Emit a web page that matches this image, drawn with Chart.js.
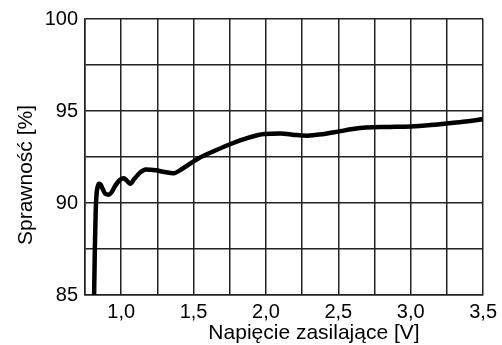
<!DOCTYPE html>
<html>
<head>
<meta charset="utf-8">
<script src="https://cdn.jsdelivr.net/npm/chart.js@4/dist/chart.umd.min.js"></script>
<style>
html,body{margin:0;padding:0;background:#fff;}
#wrap{width:502px;height:345px;}
</style>
</head>
<body>
<div id="wrap"><canvas id="c" width="502" height="345"></canvas></div>
<script>
const voltage = [0.812, 0.818, 0.824, 0.830, 0.838, 0.848, 0.858, 0.870, 0.890, 0.915, 0.935, 0.960, 0.990, 1.018, 1.040, 1.062, 1.090, 1.130, 1.170, 1.238, 1.300, 1.363, 1.420, 1.533, 1.650, 1.760, 1.880, 1.988, 2.101, 2.200, 2.283, 2.400, 2.499, 2.600, 2.691, 2.850, 3.000, 3.120, 3.248, 3.380, 3.500];
const efficiency = [84.5, 87.5, 89.6, 90.5, 90.9, 91.05, 91.0, 90.8, 90.5, 90.45, 90.6, 90.95, 91.25, 91.35, 91.2, 91.05, 91.3, 91.65, 91.82, 91.78, 91.68, 91.62, 91.85, 92.42, 92.85, 93.22, 93.55, 93.75, 93.78, 93.7, 93.66, 93.75, 93.88, 94.02, 94.1, 94.13, 94.16, 94.22, 94.32, 94.43, 94.56];
const xMin = 0.75, xMax = 3.5, xStep = 0.25;
const yMin = 85, yMax = 100, yStep = 2.5;
const xTitle = 'Napięcie zasilające [V]';
const yTitle = 'Sprawność [%]';

const points = voltage.map((v, i) => ({x: v, y: efficiency[i]}));
const fontFamily = '"Liberation Sans", Arial, sans-serif';

const axisTitles = {
  id: 'axisTitles',
  afterDraw(chart) {
    const ctx = chart.ctx;
    ctx.save();
    ctx.fillStyle = '#000';
    ctx.font = '21px ' + fontFamily;
    ctx.textAlign = 'center';
    ctx.textBaseline = 'middle';
    ctx.fillText(xTitle, 314, 333);
    ctx.translate(26, 175);
    ctx.rotate(-Math.PI / 2);
    ctx.fillText(yTitle, 0, 0);
    ctx.restore();
  }
};

new Chart(document.getElementById('c'), {
  type: 'scatter',
  data: {
    datasets: [{
      data: points,
      showLine: true,
      borderColor: '#000',
      borderWidth: 4.5,
      pointRadius: 0,
      cubicInterpolationMode: 'monotone',
      fill: false
    }]
  },
  options: {
    responsive: false,
    animation: false,
    devicePixelRatio: 1,
    layout: {padding: {top: 15, right: 14, left: 0, bottom: 0}},
    plugins: {legend: {display: false}, tooltip: {enabled: false}},
    scales: {
      x: {
        type: 'linear',
        min: xMin, max: xMax,
        afterFit: s => { s.height = 50; },
        ticks: {
          stepSize: xStep,
          autoSkip: false,
          maxRotation: 0,
          color: '#000',
          padding: 5,
          font: {family: fontFamily, size: 20},
          callback: v => (Math.abs(v * 2 - Math.round(v * 2)) < 1e-6 && v >= 1) ? v.toFixed(1).replace('.', ',') : ''
        },
        grid: {color: '#222', lineWidth: 1.5, drawTicks: false},
        border: {color: '#222', width: 1.5},
        title: {display: false}
      },
      y: {
        type: 'linear',
        min: yMin, max: yMax,
        afterFit: s => { s.width = 85; },
        ticks: {
          stepSize: yStep,
          autoSkip: false,
          color: '#000',
          padding: 7,
          font: {family: fontFamily, size: 20},
          callback: v => (Number.isInteger(v / 5)) ? String(v) : ''
        },
        grid: {color: '#222', lineWidth: 1.5, drawTicks: false},
        border: {color: '#222', width: 1.5},
        title: {display: false}
      }
    }
  },
  plugins: [axisTitles]
});
</script>
</body>
</html>
